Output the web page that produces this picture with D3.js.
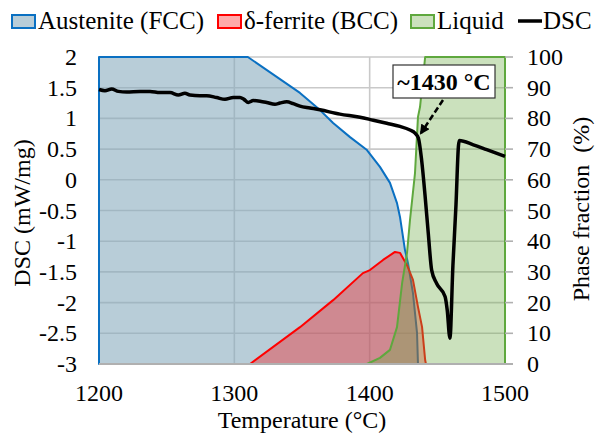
<!DOCTYPE html>
<html>
<head>
<meta charset="utf-8">
<script src="https://cdn.jsdelivr.net/npm/d3@7"></script>
<style>
  body { margin: 0; background: #fff; }
  svg { display: block; font-family: "Liberation Serif", "Times New Roman", serif; }
</style>
</head>
<body>
<svg width="595" height="439"></svg>
<script>
// phase fractions (%) vs temperature
var tempFcc = [1200, 1310, 1348.5, 1363.3, 1373, 1385.5, 1398, 1407.6, 1415, 1420.2, 1422.4, 1426.1, 1428.3, 1432, 1435, 1435.7];
var fracFcc = [100, 100, 88.3, 82.7, 78.5, 73.9, 69.7, 64.2, 59, 52.4, 47.9, 37.1, 32.9, 23.1, 10.1, 0];

var tempBcc = [1311.6, 1348.5, 1373, 1395, 1400.2, 1409.9, 1418.7, 1422.4, 1427.6, 1432, 1435.7, 1438.7, 1441, 1441.6];
var fracBcc = [0, 12, 20.8, 29.6, 30.6, 33.9, 36.5, 36.2, 32.2, 27.4, 18.6, 12.1, 1.3, 0];

var tempLiq = [1398, 1407.6, 1415, 1420.2, 1424, 1427.6, 1429.8, 1433.5, 1435.7, 1437.2, 1441, 1500];
var fracLiq = [0, 2, 4.6, 12, 26.4, 36.2, 46.9, 62.2, 80.5, 83.7, 100, 100];

// DSC signal (mW/mg)
var tempDsc = [1200, 1204.4, 1209.4, 1214.3, 1220.5, 1230.3, 1237.7, 1245, 1252.5, 1258.6, 1263.5, 1267.2, 1274.6, 1279.6, 1286.9, 1293.1, 1299.2, 1304.2, 1307.1, 1310.3, 1314, 1319, 1323.9, 1330, 1333.7, 1338.7, 1343.6, 1348.5, 1355.9, 1363.3, 1378, 1392.9, 1402.7, 1412.6, 1422.4, 1429.8, 1433.5, 1436, 1438.4, 1440.9, 1443.3, 1445.8, 1449.5, 1455.7, 1457.3, 1459.3, 1461.5, 1463.8, 1465.6, 1466.2, 1476.6, 1486.5, 1500];
var dsc = [1.47, 1.45, 1.48, 1.44, 1.43, 1.44, 1.44, 1.42, 1.42, 1.38, 1.41, 1.38, 1.37, 1.37, 1.34, 1.31, 1.34, 1.34, 1.31, 1.26, 1.29, 1.28, 1.26, 1.23, 1.25, 1.27, 1.24, 1.2, 1.17, 1.14, 1.07, 1.02, 0.97, 0.92, 0.87, 0.81, 0.76, 0.68, 0.32, -0.25, -0.87, -1.47, -1.69, -1.9, -2.12, -2.58, -1.4, -0.4, 0.55, 0.64, 0.57, 0.49, 0.38];

var xTicks = [1200, 1300, 1400, 1500];
var dscTicks = [2, 1.5, 1, 0.5, 0, -0.5, -1, -1.5, -2, -2.5, -3];
var fracTicks = [100, 90, 80, 70, 60, 50, 40, 30, 20, 10, 0];

var plotL = 99, plotR = 505, plotT = 57, plotB = 364;

var svg = d3.select("svg");

var x = d3.scaleLinear().domain([1200, 1500]).range([plotL, plotR]);
var yL = d3.scaleLinear().domain([-3, 2]).range([plotB, plotT]);
var yR = d3.scaleLinear().domain([0, 100]).range([plotB, plotT]);

// gridlines
svg.append("g").selectAll("line")
    .data(dscTicks)
    .enter()
    .append("line")
    .attr("x1", plotL).attr("x2", plotR)
    .attr("y1", function(d) { return yL(d); })
    .attr("y2", function(d) { return yL(d); })
    .attr("stroke", "#c9c9c9")
    .attr("stroke-width", 1.6);

svg.append("g").selectAll("line")
    .data(xTicks)
    .enter()
    .append("line")
    .attr("x1", function(d) { return x(d); })
    .attr("x2", function(d) { return x(d); })
    .attr("y1", plotT).attr("y2", plotB)
    .attr("stroke", "#c9c9c9")
    .attr("stroke-width", 1.6);

function phase(temps, fracs) {
    return temps.map(function(t, i) { return [t, fracs[i]]; });
}

var area = d3.area()
    .x(function(d) { return x(d[0]); })
    .y0(yR(0))
    .y1(function(d) { return yR(d[1]); });

var series = [
    { pts: phase(tempFcc, fracFcc), fill: "rgba(137,172,190,0.6)", stroke: "#0a70c2" },
    { pts: phase(tempBcc, fracBcc), fill: "rgba(255,0,0,0.33)", stroke: "#ff0000" },
    { pts: phase(tempLiq, fracLiq), fill: "rgba(112,173,71,0.36)", stroke: "#5fa83e" }
];

series.forEach(function(s) {
    svg.append("path")
        .datum(s.pts)
        .attr("d", function(d) { return area(d) + "Z"; })
        .attr("fill", s.fill)
        .attr("stroke", s.stroke)
        .attr("stroke-width", 2)
        .attr("stroke-linejoin", "round");
});

// bottom axis line
svg.append("line")
    .attr("x1", plotL).attr("x2", plotR + 8)
    .attr("y1", plotB).attr("y2", plotB)
    .attr("stroke", "#b0b0b0")
    .attr("stroke-width", 2);

// right axis ticks
svg.append("g").selectAll("line")
    .data(fracTicks)
    .enter()
    .append("line")
    .attr("x1", plotR).attr("x2", plotR + 8)
    .attr("y1", function(d) { return yR(d); })
    .attr("y2", function(d) { return yR(d); })
    .attr("stroke", "#b0b0b0")
    .attr("stroke-width", 1.6);

// DSC curve
var line = d3.line()
    .x(function(d, i) { return x(tempDsc[i]); })
    .y(function(d) { return yL(d); })
    .curve(d3.curveMonotoneX);

svg.append("path")
    .datum(dsc)
    .attr("d", line)
    .attr("fill", "none")
    .attr("stroke", "#000")
    .attr("stroke-width", 3.5)
    .attr("stroke-linejoin", "round");

// tick labels
var fs = "24px";
svg.append("g").selectAll("text")
    .data(dscTicks)
    .enter()
    .append("text")
    .text(function(d) { return d; })
    .attr("x", 77)
    .attr("y", function(d) { return yL(d) + 8; })
    .attr("text-anchor", "end")
    .attr("font-size", fs);

svg.append("g").selectAll("text")
    .data(fracTicks)
    .enter()
    .append("text")
    .text(function(d) { return d; })
    .attr("x", 527)
    .attr("y", function(d) { return yR(d) + 8; })
    .attr("text-anchor", "start")
    .attr("font-size", fs);

svg.append("g").selectAll("text")
    .data(xTicks)
    .enter()
    .append("text")
    .text(function(d) { return d; })
    .attr("x", function(d) { return x(d); })
    .attr("y", 401)
    .attr("text-anchor", "middle")
    .attr("font-size", fs);

// axis titles
svg.append("text")
    .text("Temperature (°C)")
    .attr("x", 302).attr("y", 428)
    .attr("text-anchor", "middle")
    .attr("font-size", fs);

svg.append("text")
    .text("DSC (mW/mg)")
    .attr("transform", "translate(30,213) rotate(-90)")
    .attr("text-anchor", "middle")
    .attr("font-size", fs);

svg.append("text")
    .text("Phase fraction\u00a0\u00a0(%)")
    .attr("transform", "translate(589,209) rotate(-90)")
    .attr("text-anchor", "middle")
    .attr("font-size", fs);

// legend
var lfs = "25px";
var legendItems = [
    { name: "Austenite (FCC)", x: 12, fill: "rgba(137,172,190,0.6)", stroke: "#0a70c2" },
    { name: "\u03b4-ferrite (BCC)", x: 218, fill: "rgba(255,0,0,0.33)", stroke: "#ff0000" },
    { name: "Liquid", x: 411, fill: "rgba(112,173,71,0.36)", stroke: "#5fa83e" }
];
legendItems.forEach(function(it) {
    svg.append("rect")
        .attr("x", it.x).attr("y", 15)
        .attr("width", 23).attr("height", 13)
        .attr("fill", it.fill)
        .attr("stroke", it.stroke)
        .attr("stroke-width", 2);
    svg.append("text")
        .text(it.name)
        .attr("x", it.x + 26).attr("y", 29)
        .attr("font-size", lfs);
});
svg.append("line")
    .attr("x1", 518).attr("x2", 542)
    .attr("y1", 21).attr("y2", 21)
    .attr("stroke", "#000").attr("stroke-width", 3.5);
svg.append("text")
    .text("DSC")
    .attr("x", 543).attr("y", 29)
    .attr("font-size", lfs);

// annotation
svg.append("defs").append("marker")
    .attr("id", "arr")
    .attr("viewBox", "0 0 10 10")
    .attr("refX", 8).attr("refY", 5)
    .attr("markerWidth", 4).attr("markerHeight", 4)
    .attr("orient", "auto")
    .append("path")
    .attr("d", "M0,0 L10,5 L0,10 Z")
    .attr("fill", "#000");

svg.append("line")
    .attr("x1", 443).attr("y1", 100)
    .attr("x2", 421).attr("y2", 133)
    .attr("stroke", "#000")
    .attr("stroke-width", 2.5)
    .attr("stroke-dasharray", "6,3")
    .attr("marker-end", "url(#arr)");

svg.append("rect")
    .attr("x", 393).attr("y", 65)
    .attr("width", 102).attr("height", 33)
    .attr("fill", "#fff")
    .attr("stroke", "#333")
    .attr("stroke-width", 1.2);

svg.append("text")
    .text("~1430 °C")
    .attr("x", 444).attr("y", 90)
    .attr("text-anchor", "middle")
    .attr("font-weight", "bold")
    .attr("font-size", fs);
</script>
</body>
</html>
